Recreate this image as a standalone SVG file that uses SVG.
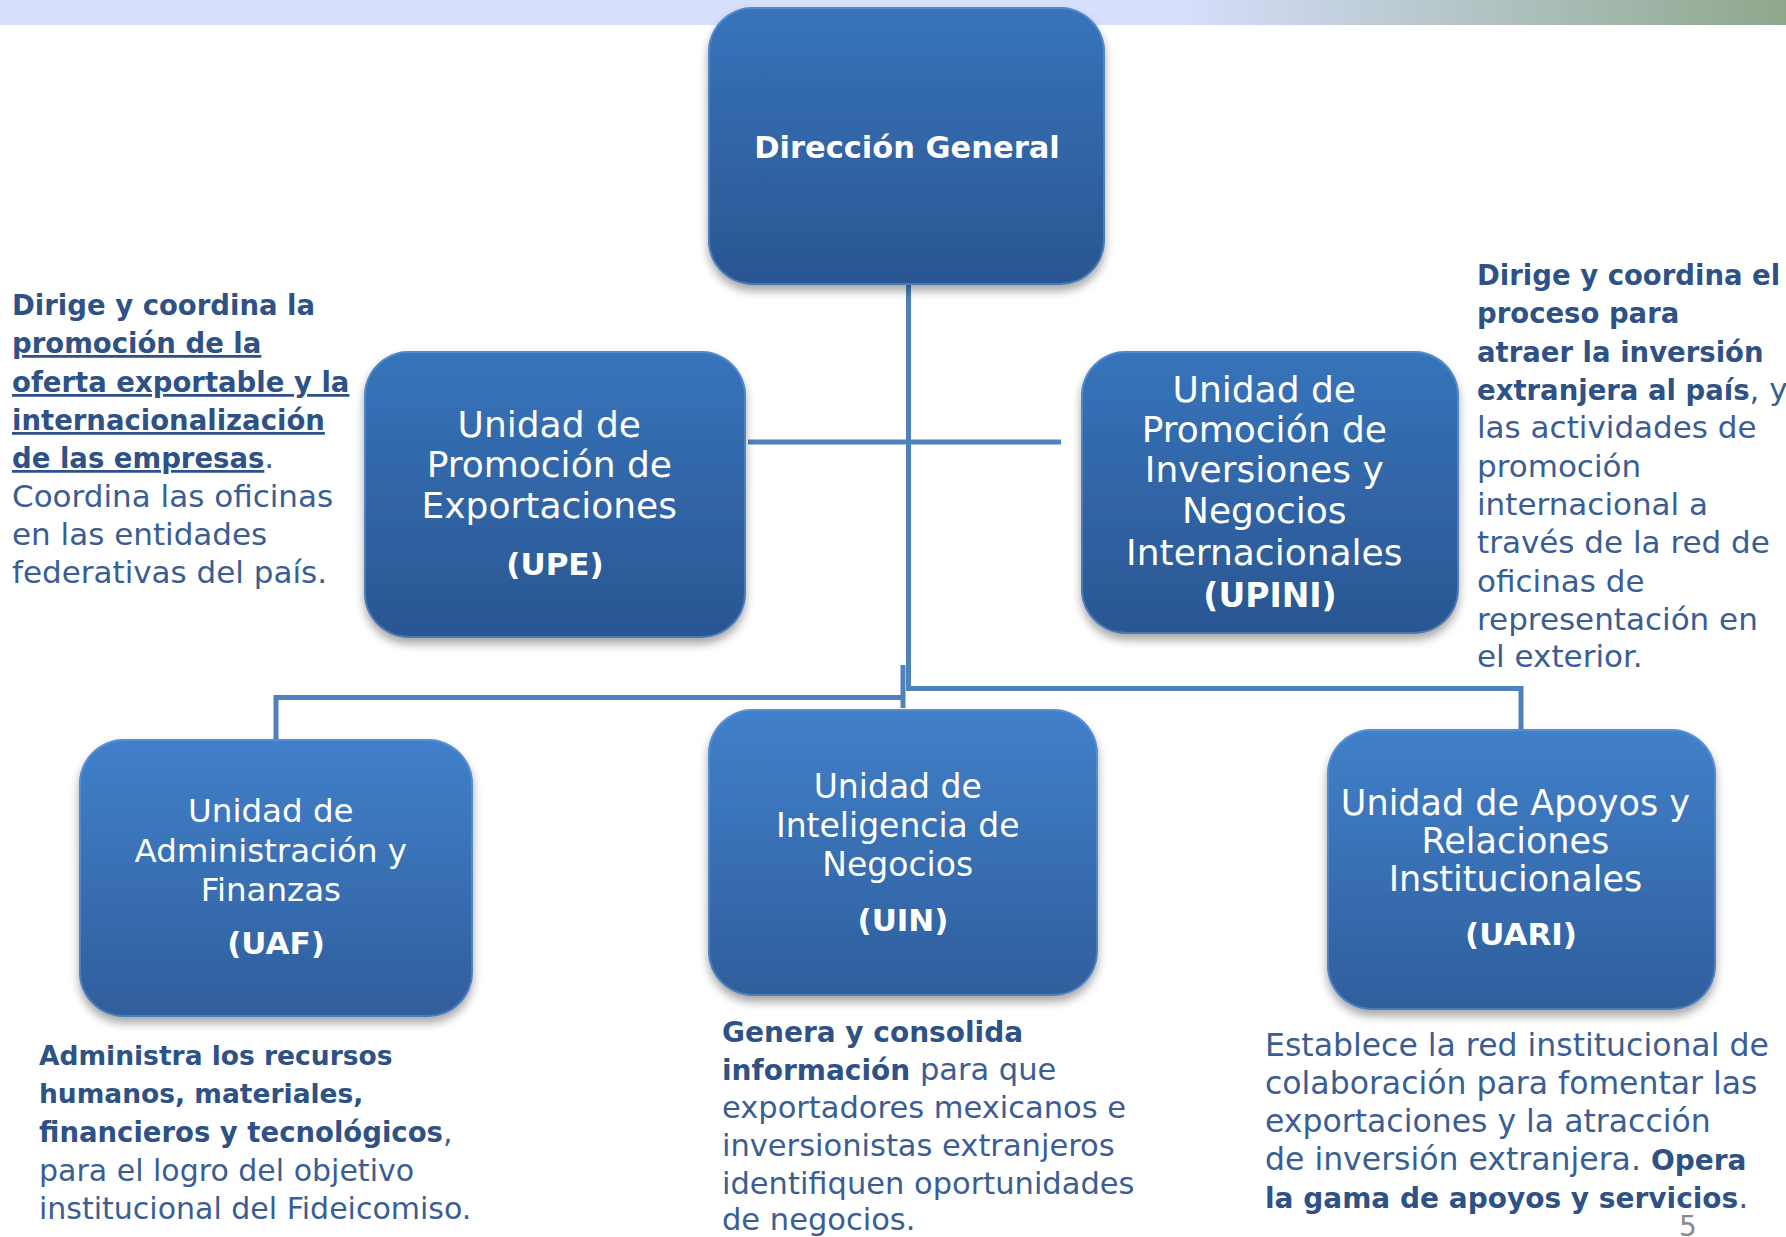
<svg xmlns="http://www.w3.org/2000/svg" width="1786" height="1237" viewBox="0 0 1786 1237">
<style>
.t{font-family:"DejaVu Sans","Liberation Sans",sans-serif}
.w{fill:#ffffff;text-anchor:middle}
.wb{font-weight:bold}
.d{fill:#3a5e93}
.b{font-weight:bold;fill:#2e5186}
.u{text-decoration:underline}
.conn{stroke:#4f81bd;stroke-width:5;fill:none}
.hl{fill:none;stroke:#9cc6f3;stroke-width:4;opacity:0.7}
.edge{fill:none;stroke:#6fa3e2;stroke-width:2}
</style>
<defs>
<linearGradient id="hdr" x1="0" y1="0" x2="1" y2="0">
<stop offset="0" stop-color="#d6dffc"/>
<stop offset="0.66" stop-color="#d6dffc"/>
<stop offset="1" stop-color="#8ea78b"/>
</linearGradient>
<linearGradient id="gTop" x1="0" y1="0" x2="0" y2="1">
<stop offset="0" stop-color="#3774bb"/>
<stop offset="1" stop-color="#2a5691"/>
</linearGradient>
<linearGradient id="gBot" x1="0" y1="0" x2="0" y2="1">
<stop offset="0" stop-color="#4180ca"/>
<stop offset="1" stop-color="#2f5e9c"/>
</linearGradient>
<filter id="sh" x="-10%" y="-10%" width="120%" height="130%">
<feDropShadow dx="0" dy="6" stdDeviation="5" flood-color="#000" flood-opacity="0.35"/>
</filter>
<filter id="soft" x="-5%" y="-200%" width="110%" height="500%">
<feGaussianBlur stdDeviation="1.5"/>
</filter>
</defs>

<rect x="0" y="0" width="1786" height="25" fill="url(#hdr)"/>

<g id="connectors">
<path class="conn" d="M908.5,285 V691"/>
<path class="conn" d="M748,442 H1061"/>
<path class="conn" d="M276,739 V697.5 H905"/>
<path class="conn" d="M903,665 V708"/>
<path class="conn" d="M908,688.5 H1521 V729"/>
</g>

<g id="dir-general">
<rect x="708" y="7" width="397" height="278" rx="45" fill="url(#gTop)" filter="url(#sh)"/>
<path class="hl" d="M752,14 H1061" filter="url(#soft)"/>
<rect class="edge" x="709" y="8" width="395" height="276" rx="44" opacity="0.45"/>
<text class="t w wb" x="907" y="158" font-size="30.5">Dirección General</text>
</g>

<g id="upe">
<rect x="364" y="351" width="382" height="287" rx="45" fill="url(#gTop)" filter="url(#sh)"/>
<path class="hl" d="M408,358 H702" filter="url(#soft)"/>
<rect class="edge" x="365" y="352" width="380" height="285" rx="44" opacity="0.45"/>
<text class="t w" font-size="36">
<tspan x="555" y="437">Unidad de</tspan>
<tspan x="555" y="477">Promoción de</tspan>
<tspan x="555" y="518">Exportaciones</tspan>
<tspan x="555" y="575" class="wb" font-size="31">(UPE)</tspan>
</text>
</g>

<g id="upini">
<rect x="1081" y="351" width="378" height="283" rx="45" fill="url(#gTop)" filter="url(#sh)"/>
<path class="hl" d="M1125,358 H1415" filter="url(#soft)"/>
<rect class="edge" x="1082" y="352" width="376" height="281" rx="44" opacity="0.45"/>
<text class="t w" font-size="36">
<tspan x="1270" y="402">Unidad de</tspan>
<tspan x="1270" y="442">Promoción de</tspan>
<tspan x="1270" y="482">Inversiones y</tspan>
<tspan x="1270" y="523">Negocios</tspan>
<tspan x="1270" y="565">Internacionales</tspan>
<tspan x="1270" y="607" class="wb" font-size="33">(UPINI)</tspan>
</text>
</g>

<g id="uaf">
<rect x="79" y="739" width="394" height="278" rx="45" fill="url(#gBot)" filter="url(#sh)"/>
<path class="hl" d="M123,746 H429" filter="url(#soft)"/>
<rect class="edge" x="80" y="740" width="392" height="276" rx="44" opacity="0.45"/>
<text class="t w" font-size="32.5">
<tspan x="276" y="822">Unidad de</tspan>
<tspan x="276" y="862">Administración y</tspan>
<tspan x="276" y="901">Finanzas</tspan>
<tspan x="276" y="954" class="wb" font-size="31">(UAF)</tspan>
</text>
</g>

<g id="uin">
<rect x="708" y="709" width="390" height="287" rx="45" fill="url(#gBot)" filter="url(#sh)"/>
<path class="hl" d="M752,716 H1054" filter="url(#soft)"/>
<rect class="edge" x="709" y="710" width="388" height="285" rx="44" opacity="0.45"/>
<text class="t w" font-size="33">
<tspan x="903" y="798">Unidad de</tspan>
<tspan x="903" y="837">Inteligencia de</tspan>
<tspan x="903" y="876">Negocios</tspan>
<tspan x="903" y="931" class="wb" font-size="31">(UIN)</tspan>
</text>
</g>

<g id="uari">
<rect x="1327" y="729" width="389" height="281" rx="45" fill="url(#gBot)" filter="url(#sh)"/>
<path class="hl" d="M1371,736 H1672" filter="url(#soft)"/>
<rect class="edge" x="1328" y="730" width="387" height="279" rx="44" opacity="0.45"/>
<text class="t w" font-size="35">
<tspan x="1521" y="815">Unidad de Apoyos y</tspan>
<tspan x="1521" y="853">Relaciones</tspan>
<tspan x="1521" y="891">Institucionales</tspan>
<tspan x="1521" y="945" class="wb" font-size="31">(UARI)</tspan>
</text>
</g>

<g id="desc-upe">
<text class="t d" font-size="31">
<tspan x="12" y="315" class="b" font-size="27.5">Dirige y coordina la</tspan>
<tspan x="12" y="353" class="b u" font-size="27.5">promoción de la</tspan>
<tspan x="12" y="392" class="b u" font-size="27.5">oferta exportable y la</tspan>
<tspan x="12" y="430" class="b u" font-size="27.5">internacionalización</tspan>
<tspan x="12" y="468" class="b u" font-size="27.5">de las empresas</tspan><tspan>.</tspan>
<tspan x="12" y="507">Coordina las oficinas</tspan>
<tspan x="12" y="545">en las entidades</tspan>
<tspan x="12" y="583">federativas del país.</tspan>
</text>
</g>

<g id="desc-upini">
<text class="t d" font-size="31">
<tspan x="1477" y="285" class="b" font-size="27.5">Dirige y coordina el</tspan>
<tspan x="1477" y="323" class="b" font-size="27.5">proceso para</tspan>
<tspan x="1477" y="362" class="b" font-size="27.5">atraer la inversión</tspan>
<tspan x="1477" y="400" class="b" font-size="27.5">extranjera al país</tspan><tspan>, y</tspan>
<tspan x="1477" y="438">las actividades de</tspan>
<tspan x="1477" y="477">promoción</tspan>
<tspan x="1477" y="515">internacional a</tspan>
<tspan x="1477" y="553">través de la red de</tspan>
<tspan x="1477" y="592">oficinas de</tspan>
<tspan x="1477" y="630">representación en</tspan>
<tspan x="1477" y="667">el exterior.</tspan>
</text>
</g>

<g id="desc-uaf">
<text class="t d" font-size="30">
<tspan x="39" y="1065" class="b" font-size="26.5">Administra los recursos</tspan>
<tspan x="39" y="1103" class="b" font-size="26.5">humanos, materiales,</tspan>
<tspan x="39" y="1142" class="b" font-size="27.5">financieros y tecnológicos</tspan><tspan>,</tspan>
<tspan x="39" y="1181">para el logro del objetivo</tspan>
<tspan x="39" y="1219">institucional del Fideicomiso.</tspan>
</text>
</g>

<g id="desc-uin">
<text class="t d" font-size="30.5">
<tspan x="722" y="1042" class="b" font-size="28">Genera y consolida</tspan>
<tspan x="722" y="1080" class="b" font-size="28">información</tspan><tspan> para que</tspan>
<tspan x="722" y="1118">exportadores mexicanos e</tspan>
<tspan x="722" y="1156">inversionistas extranjeros</tspan>
<tspan x="722" y="1194">identifiquen oportunidades</tspan>
<tspan x="722" y="1230">de negocios.</tspan>
</text>
</g>

<g id="desc-uari">
<text class="t d" font-size="31.5">
<tspan x="1265" y="1056">Establece la red institucional de</tspan>
<tspan x="1265" y="1094">colaboración para fomentar las</tspan>
<tspan x="1265" y="1132">exportaciones y  la atracción</tspan>
<tspan x="1265" y="1170">de inversión extranjera. </tspan><tspan class="b" font-size="28">Opera</tspan>
<tspan x="1265" y="1208" class="b" font-size="28">la gama de apoyos y servicios</tspan><tspan>.</tspan>
</text>
</g>

<text class="t" x="1688" y="1236" font-size="28" fill="#8a8a8a" text-anchor="middle">5</text>
</svg>
